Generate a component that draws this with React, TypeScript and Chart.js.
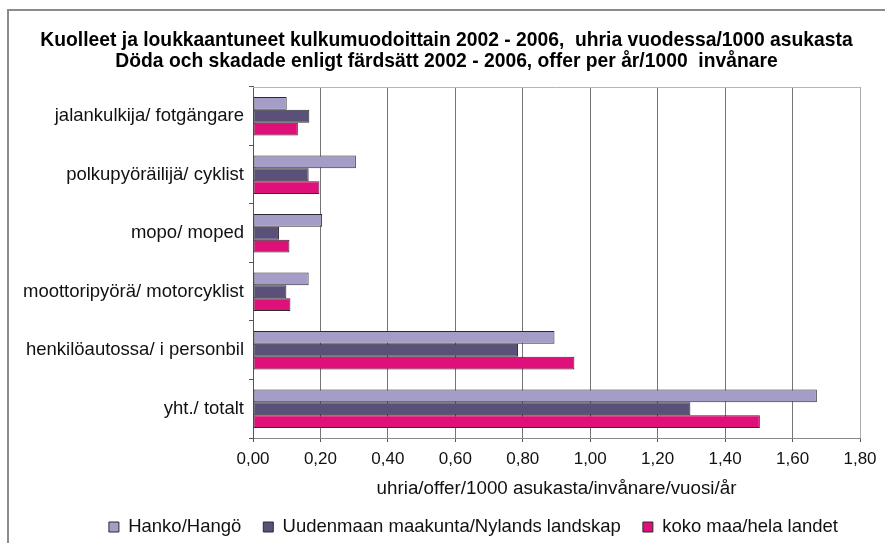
import React, { useEffect, useRef } from 'react';
import { Chart, registerables } from 'chart.js';

Chart.register(...registerables);

const titleLines = [
  'Kuolleet ja loukkaantuneet kulkumuodoittain 2002 - 2006,  uhria vuodessa/1000 asukasta',
  'Döda och skadade enligt färdsätt 2002 - 2006, offer per år/1000  invånare',
];
const categories = [
  'jalankulkija/ fotgängare',
  'polkupyöräilijä/ cyklist',
  'mopo/ moped',
  'moottoripyörä/ motorcyklist',
  'henkilöautossa/ i personbil',
  'yht./ totalt',
];
const seriesNames = ['Hanko/Hangö', 'Uudenmaan maakunta/Nylands landskap', 'koko maa/hela landet'];
const hanko = [0.1, 0.305, 0.205, 0.165, 0.894, 1.672];
const uusimaa = [0.167, 0.165, 0.077, 0.099, 0.786, 1.297];
const kokoMaa = [0.133, 0.197, 0.108, 0.111, 0.953, 1.503];
const xMin = 0;
const xMax = 1.8;
const xStep = 0.2;
const xAxisTitle = 'uhria/offer/1000 asukasta/invånare/vuosi/år';

const FONT = "'Liberation Sans', Arial, Helvetica, sans-serif";
const colors = ['#A59DC8', '#5A5078', '#E0107A'];

const framePlugin = {
  id: 'frame',
  afterLayout(chart: any) {
    // let the long category labels use the space left of the axis box without being clipped
    const y = chart.scales.y;
    if (y) y.left = 0;
  },
  beforeDraw(chart: any) {
    const { ctx, width, height } = chart;
    ctx.save();
    ctx.fillStyle = '#ffffff';
    ctx.fillRect(0, 0, width, height);
    ctx.strokeStyle = '#8c8c8c';
    ctx.lineWidth = 2;
    ctx.beginPath();
    ctx.moveTo(width + 5, 10);
    ctx.lineTo(8, 10);
    ctx.lineTo(8, height + 5);
    ctx.stroke();
    ctx.restore();
  },
  beforeDatasetsDraw(chart: any) {
    const { ctx, chartArea } = chart;
    ctx.save();
    ctx.strokeStyle = '#b4b4b4';
    ctx.lineWidth = 1;
    ctx.beginPath();
    ctx.moveTo(chartArea.left, chartArea.top + 0.5);
    ctx.lineTo(chartArea.right, chartArea.top + 0.5);
    ctx.stroke();
    ctx.restore();
  },
};

export default function App() {
  const ref = useRef<HTMLCanvasElement>(null);

  useEffect(() => {
    const canvas = ref.current;
    if (!canvas) return;
    const series = [hanko, uusimaa, kokoMaa];
    const chart = new Chart(canvas, {
      type: 'bar',
      data: {
        labels: categories,
        datasets: series.map((d, i) => ({
          label: seriesNames[i],
          data: d,
          backgroundColor: colors[i],
          borderColor: '#2b2b2b',
          borderWidth: 1,
          borderSkipped: false,
          categoryPercentage: 0.66,
          barPercentage: 1,
        })),
      },
      options: {
        indexAxis: 'y',
        responsive: false,
        animation: false,
        events: [],
        layout: { padding: { left: 33, right: 25, top: 0, bottom: -3.25 } },
        plugins: {
          title: {
            display: true,
            text: titleLines,
            color: '#000',
            font: { family: FONT, size: 19.3, weight: 'bold', lineHeight: 1.09 },
            padding: { top: 30.5, bottom: 14.4 },
          },
          legend: {
            position: 'bottom',
            align: 'end',
            labels: {
              color: '#111',
              font: { family: FONT, size: 18.5 },
              boxWidth: 10,
              boxHeight: 10,
              padding: 22,
            },
          },
          tooltip: { enabled: false },
        },
        scales: {
          x: {
            type: 'linear',
            min: xMin,
            max: xMax,
            ticks: {
              stepSize: xStep,
              color: '#111',
              font: { family: FONT, size: 17 },
              padding: 7,
              callback: (v: any) => Number(v).toFixed(2).replace('.', ','),
            },
            grid: {
              color: (c: any) => (c.tick && c.tick.value >= xMax - 1e-9 ? '#ababab' : c.tick && c.tick.value === 0 ? '#555' : '#747474'),
              tickLength: 4,
              tickColor: '#555',
            },
            border: { color: '#8a8a8a' },
            title: {
              display: true,
              text: xAxisTitle,
              color: '#111',
              font: { family: FONT, size: 18.8 },
              padding: { top: 0, bottom: -4.5 },
            },
            afterFit: (s: any) => {
              s.height = 57.75;
            },
          },
          y: {
            ticks: {
              color: '#111',
              font: { family: FONT, size: 18.5 },
              padding: 5,
            },
            grid: {
              drawOnChartArea: false,
              tickLength: 4,
              color: '#555',
              offset: true,
            },
            border: { color: '#555' },
            afterFit: (s: any) => {
              s.width = 220;
            },
          },
        },
      },
      plugins: [framePlugin],
    });
    return () => chart.destroy();
  }, []);

  return (
    <div style={{ position: 'absolute', left: 0, top: 0, width: 885, height: 543, overflow: 'hidden' }}>
      <canvas ref={ref} width={885} height={543} style={{ display: 'block' }} />
    </div>
  );
}
